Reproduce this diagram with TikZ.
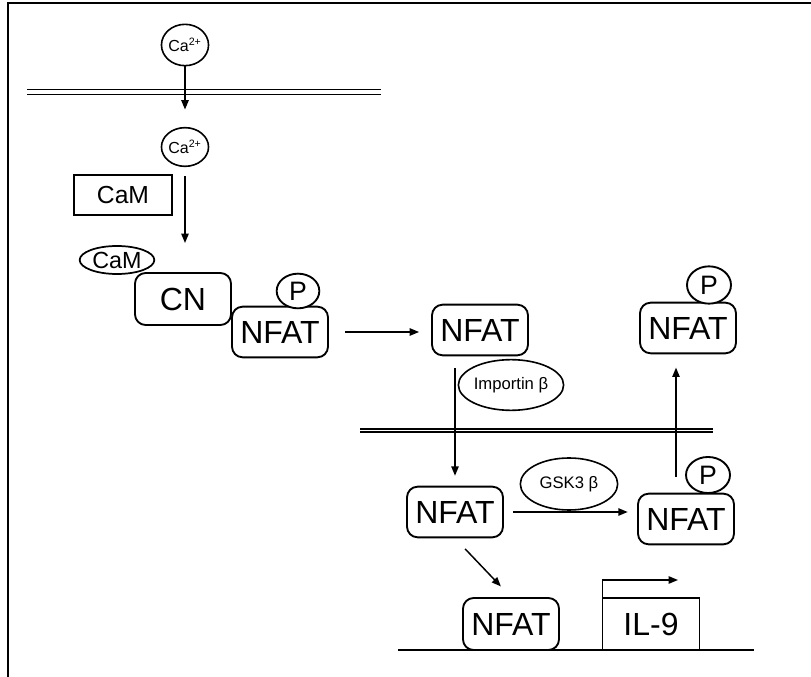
\documentclass[tikz,border=0pt]{standalone}
\usepackage{fontspec}
\setmainfont{Liberation Sans}
\usetikzlibrary{shapes.geometric,arrows.meta}

\tikzset{every picture/.style={line width=0.75pt}}
\tikzset{
  prot/.style={draw, line width=1.4pt, rounded corners=8pt, minimum width=72pt, minimum height=38pt, inner sep=0pt, font=\fontsize{24}{24}\selectfont},
  phos/.style={draw, ellipse, line width=1.4pt, fill=white, minimum width=32pt, minimum height=26pt, inner sep=0pt, font=\fontsize{20}{20}\selectfont},
  ion/.style={draw, ellipse, line width=1.2pt, minimum width=32pt, minimum height=31pt, inner sep=0pt, font=\fontsize{12}{12}\selectfont},
  enz/.style={draw, ellipse, line width=1.2pt, minimum width=73pt, minimum height=38pt, inner sep=0pt, font=\fontsize{12.5}{13}\selectfont},
  memb/.style={double, double distance=2.6pt, line width=1.1pt},
  flow/.style={-{Triangle[length=7pt,width=5.5pt]}, line width=1.1pt},
}

\begin{document}
\begin{tikzpicture}[x=0.75pt,y=0.75pt,yscale=-1,xscale=1]
\useasboundingbox (0,0) rectangle (811,677);

%Frame
\draw [line width=1pt] (8,677) -- (8,3) -- (811,3) ;
%Cell membrane
\draw [memb] (27,92) -- (381,92) ;
%Nuclear membrane
\draw [memb, double distance=1.4pt, line width=1.3pt] (360,430.5) -- (713,430.5) ;
%DNA
\draw [line width=1.5pt] (398,650) -- (754,650) ;

% Ca nodes
\node [ion] (ca1) at (185,45) {Ca\textsuperscript{2+}};
\node [ion, minimum height=29pt] (ca2) at (185,147) {Ca\textsuperscript{2+}};
% CaM
\node [draw, line width=1.2pt, minimum width=73.5pt, minimum height=30pt, inner sep=0pt, font=\fontsize{18.5}{19}\selectfont] (camr) at (123,195) {CaM};
\node [draw, ellipse, line width=1.3pt, minimum width=56pt, minimum height=21pt, inner sep=0pt, font=\fontsize{17.5}{17}\selectfont] (cam) at (117,260) {CaM};
% CN / NFAT complex
\node [prot, minimum height=39pt] (cn) at (183,299) {CN};
\node [prot] (nfat1) at (280,332) {NFAT};
\node [phos] (p1) at (298,291) {P};
% cytoplasm
\node [prot] (nfat2) at (480,330) {NFAT};
\node [enz] (imp) at (511,385) {Importin β};
\node [prot] (nfat5) at (688,328) {NFAT};
\node [phos, minimum width=33pt, minimum height=28pt] (p5) at (709,285) {P};
% nucleus
\node [prot] (nfat3) at (455,512) {NFAT};
\node [enz, minimum height=39pt] (gsk) at (569,484) {GSK3 β};
\node [prot] (nfat4) at (686,519) {NFAT};
\node [phos, minimum width=33pt, minimum height=27pt] (p4) at (708,475) {P};
\node [prot, minimum height=39pt] (nfat6) at (511,624) {NFAT};
\node [minimum width=72pt, minimum height=39pt, inner sep=0pt, font=\fontsize{24}{24}\selectfont] (il9) at (651,624.5) {IL-9};
\draw [line width=1.2pt] (il9.south west) |- (il9.north east) -- (il9.south east) ;
\coordinate (tss) at (678,580);
\coordinate (cpx) at (185,243);
\coordinate (exp) at (676,477);

% Arrows
\draw [flow, shorten >=13pt] (ca1.south) -- (ca2.north) ;
\draw [flow, shorten <=7pt] (ca2.south) -- (cpx) ;
\draw [flow, shorten <=12pt, shorten >=9pt] (nfat1.east) -- (nfat1.east -| nfat2.west) ;
\draw [flow, shorten <=9pt, shorten >=7.5pt] (nfat3.north |- nfat2.south) -- (nfat3.north) ;
\draw [flow, shorten <=7pt, shorten >=7pt] (nfat3.east) -- (nfat3.east -| nfat4.west) ;
\draw [flow, shorten >=10pt] (exp) -- (exp |- nfat5.south) ;
\draw [flow, shorten <=11pt, shorten >=11pt] (nfat3.south) -- (nfat6.north) ;
\draw [flow] (il9.north west) |- (tss) ;

\end{tikzpicture}
\end{document}
